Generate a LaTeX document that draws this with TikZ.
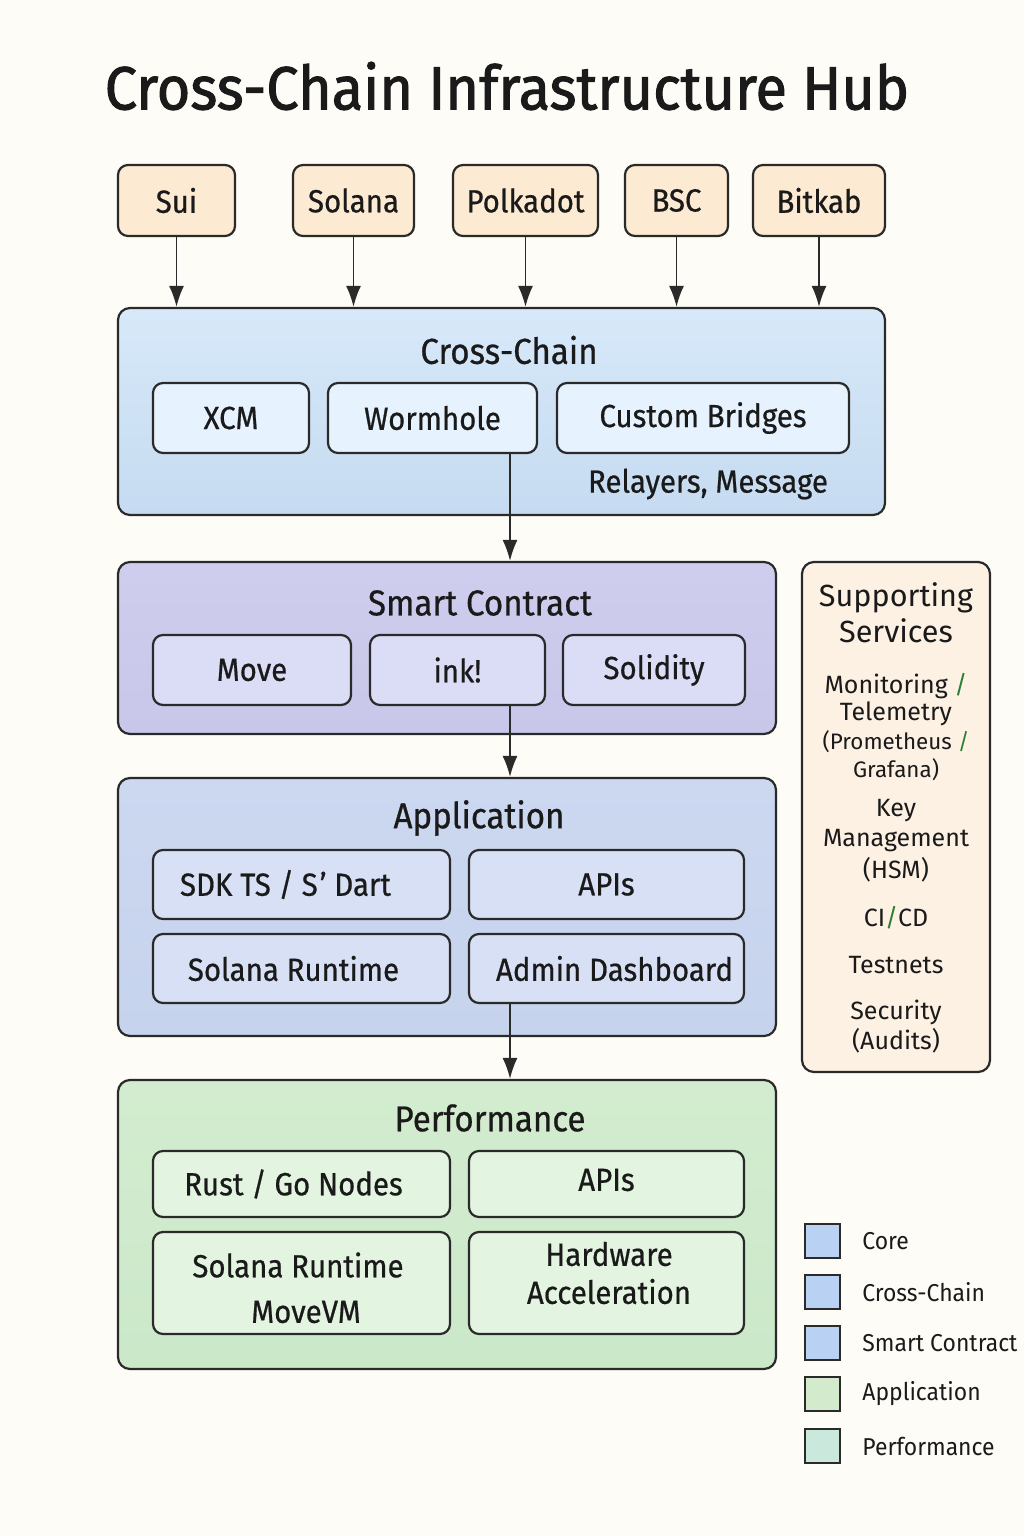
\documentclass[tikz,border=0pt]{standalone}
\usepackage{fontspec}
\setmainfont{Fira Sans}
\newfontfamily\boxfont[FakeStretch=0.92,FakeBold=0.6]{Fira Sans}
\newfontfamily\titlefont[FakeBold=1.6,FakeStretch=0.945]{Fira Sans}
\newfontfamily\legfont[FakeStretch=0.94]{Fira Sans}
\usetikzlibrary{arrows.meta}
\definecolor{bg}{HTML}{FDFCF7}
\definecolor{edge}{HTML}{2A2A2A}
\definecolor{chainfill}{HTML}{FCEBD2}
\definecolor{cctop}{HTML}{D7E9F9}
\definecolor{ccbot}{HTML}{C6DBF1}
\definecolor{ccin}{HTML}{E6F2FD}
\definecolor{sctop}{HTML}{CFCDEE}
\definecolor{scbot}{HTML}{C8C7E9}
\definecolor{scin}{HTML}{DBDDF6}
\definecolor{apptop}{HTML}{CCD8F0}
\definecolor{appbot}{HTML}{C6D3EC}
\definecolor{appin}{HTML}{D7E0F4}
\definecolor{perftop}{HTML}{D3ECCF}
\definecolor{perfbot}{HTML}{CBE8C9}
\definecolor{perfin}{HTML}{E3F4E1}
\definecolor{suppfill}{HTML}{FCF1E3}
\definecolor{legblue}{HTML}{B9D1F3}
\definecolor{leggreen}{HTML}{D3EBCC}
\definecolor{legmint}{HTML}{CBE8DC}
\definecolor{slash}{HTML}{2E7D32}
\definecolor{ink}{HTML}{1A1A1A}
\tikzset{
  wh/.style 2 args={minimum width=#1*0.5pt, minimum height=#2*0.5pt},
  basebox/.style={draw=edge, line width=1.1pt, rounded corners=5pt, inner sep=0pt, text=ink},
  chain/.style={basebox, fill=chainfill, font=\boxfont\fontsize{16}{19}\selectfont},
  outer/.style={basebox, rounded corners=6pt},
  inbox/.style={basebox, font=\boxfont\fontsize{16}{19}\selectfont, align=center},
  sectitle/.style={font=\boxfont\fontsize{18}{21}\selectfont, text=ink, inner sep=0pt},
  lbl/.style={font=\boxfont\fontsize{16}{19}\selectfont, text=ink, inner sep=0pt, align=center},
  supp/.style={font=\fontsize{12.5}{14.5}\selectfont, text=ink, inner sep=0pt, align=center},
  legsq/.style={draw=edge, line width=0.9pt, inner sep=0pt, wh={35}{34}},
  legtxt/.style={font=\legfont\fontsize{12.2}{14}\selectfont, text=ink, inner sep=0pt, anchor=west},
  arr/.style={draw=edge, line width=0.9pt, -{Latex[length=10.5pt,width=7.5pt]}},
}
\begin{document}
\begin{tikzpicture}[x=0.5pt,y=-0.5pt]
\fill[bg] (0,0) rectangle (1024,1536);
\useasboundingbox (0,0) rectangle (1024,1536);

% title
\node[font=\titlefont\fontsize{30.5}{36}\selectfont, text=ink, inner sep=0pt] (title) at (507,86) {Cross-Chain Infrastructure Hub};

% chains
\node[chain, wh={117}{71}] (sui) at (176.5,200.5) {Sui};
\node[chain, wh={121}{71}] (solana) at (353.5,200.5) {Solana};
\node[chain, wh={145}{71}] (polkadot) at (525.5,200.5) {Polkadot};
\node[chain, wh={103}{71}] (bsc) at (676.5,200.5) {BSC};
\node[chain, wh={132}{71}] (bitkab) at (819,200.5) {Bitkab};

% cross-chain
\node[outer, top color=cctop, bottom color=ccbot, wh={767}{207}] (cc) at (501.5,411.5) {};
\node[sectitle] (cctitle) at (509,350) {Cross-Chain};
\node[inbox, fill=ccin, wh={156}{70}] (xcm) at (231,418) {XCM};
\node[inbox, fill=ccin, wh={209}{70}] (worm) at (432.5,418) {Wormhole};
\node[inbox, fill=ccin, wh={292}{70}] (cust) at (703,418) {Custom Bridges};
\node[lbl] (relay) at (708,484) {Relayers, Message};

% smart contract
\node[outer, top color=sctop, bottom color=scbot, wh={658}{172}] (sc) at (447,648) {};
\node[sectitle] (sctitle) at (480,603) {Smart Contract};
\node[inbox, fill=scin, wh={198}{70}] (move) at (252,670) {Move};
\node[inbox, fill=scin, wh={175}{70}] (inkb) at (457.5,670) {ink!};
\node[inbox, fill=scin, wh={182}{70}] (solid) at (654,670) {Solidity};

% application
\node[outer, top color=apptop, bottom color=appbot, wh={658}{258}] (app) at (447,907) {};
\node[sectitle] (apptitle) at (479,818) {Application};
\node[inbox, fill=appin, wh={297}{69}] (sdk) at (301.5,884.5) {SDK TS / S\kern1pt’ Dart\hspace*{16pt}};
\node[inbox, fill=appin, wh={275}{69}] (apis) at (606.5,884.5) {APIs};
\node[inbox, fill=appin, wh={297}{69}] (solrt) at (301.5,968.5) {Solana Runtime\hspace*{8pt}};
\node[inbox, fill=appin, wh={275}{69}] (admin) at (606.5,968.5) {\hspace*{8pt}Admin Dashboard};

% performance
\node[outer, top color=perftop, bottom color=perfbot, wh={658}{289}] (perf) at (447,1224.5) {};
\node[sectitle] (perftitle) at (490,1118) {Performance};
\node[inbox, fill=perfin, wh={297}{66}] (rust) at (301.5,1184) {Rust / Go Nodes\hspace*{8pt}};
\node[inbox, fill=perfin, wh={275}{66}] (papis) at (606.5,1184) {};
\node[lbl] (papist) at (606.5,1180) {APIs};
\node[inbox, fill=perfin, wh={297}{102}] (solmv) at (301.5,1283) {};
\node[lbl] (solmvt1) at (298,1265) {Solana Runtime};
\node[lbl] (solmvt2) at (306,1312) {MoveVM};
\node[inbox, fill=perfin, wh={275}{102}] (hw) at (606.5,1283) {};
\node[lbl] (hwt) at (609,1273) {Hardware\\Acceleration};

% supporting services
\node[basebox, fill=suppfill, rounded corners=6pt, wh={188}{510}] (supp) at (896,817) {};
\node[font=\fontsize{15.3}{18}\selectfont, text=ink, inner sep=0pt, align=center] (supptitle) at (896,613) {Supporting\\Services};
\node[supp] (s1a) at (896,686) {Monitoring \textcolor{slash}{/}};
\node[supp] (s1b) at (896,714) {Telemetry};
\node[supp, font=\fontsize{11.2}{13}\selectfont] (s1c) at (896,742) {(Prometheus \textcolor{slash}{/}};
\node[supp, font=\fontsize{11.2}{13}\selectfont] (s1d) at (896,770) {Grafana)};
\node[supp] (s2a) at (896,811) {Key};
\node[supp] (s2b) at (896,841) {Management};
\node[supp] (s2c) at (896,870) {(HSM)};
\node[supp] (s3) at (896,918) {CI\textcolor{slash}{/}CD};
\node[supp] (s4) at (896,965) {Testnets};
\node[supp] (s5a) at (896,1012) {Security};
\node[supp] (s5b) at (896,1041) {(Audits)};

% legend
\node[legsq, fill=legblue] (l1) at (822.5,1241) {};
\node[legsq, fill=legblue] (l2) at (822.5,1292) {};
\node[legsq, fill=legblue] (l3) at (822.5,1343) {};
\node[legsq, fill=leggreen] (l4) at (822.5,1394) {};
\node[legsq, fill=legmint] (l5) at (822.5,1446) {};
\node[legtxt] (t1) at (862,1241) {Core};
\node[legtxt] (t2) at (862,1292) {Cross-Chain};
\node[legtxt] (t3) at (862,1343) {Smart Contract};
\node[legtxt] (t4) at (862,1394) {Application};
\node[legtxt] (t5) at (862,1446) {Performance};

% arrows
\foreach \n in {sui,solana,polkadot,bsc,bitkab}
  \draw[arr] (\n.south) -- (\n.south |- cc.north);
\coordinate (ax) at (510,0);
\draw[arr] (worm.south -| ax) -- (sc.north -| ax);
\draw[arr] (inkb.south -| ax) -- (app.north -| ax);
\draw[arr] (admin.south -| ax) -- (perf.north -| ax);
\end{tikzpicture}
\end{document}
